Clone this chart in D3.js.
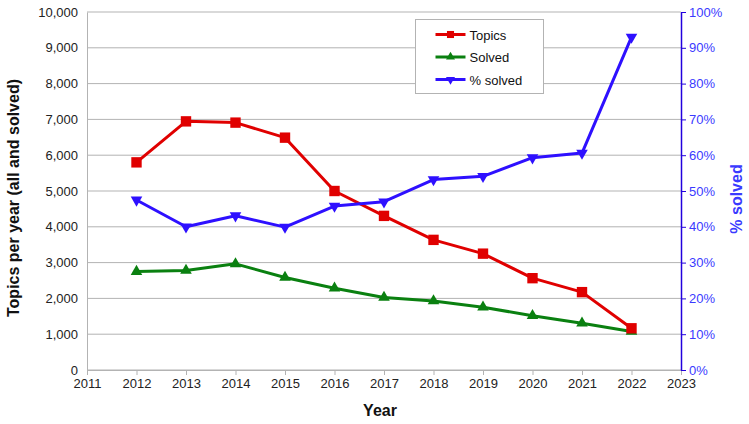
<!DOCTYPE html>
<html>
<head>
<meta charset="utf-8">
<script src="https://cdn.jsdelivr.net/npm/d3@7"></script>
<style>
  body { margin: 0; background: #fff; }
  text { font-family: "Liberation Sans", Arial, sans-serif; }
</style>
</head>
<body>
<div id="chart"></div>
<script>
// data
var years = [2012, 2013, 2014, 2015, 2016, 2017, 2018, 2019, 2020, 2021, 2022];
var topics = [5800, 6945, 6910, 6490, 5000, 4305, 3635, 3250, 2565, 2175, 1165];
var solved = [2750, 2780, 2965, 2585, 2285, 2025, 1930, 1755, 1515, 1305, 1075];
var pctSolved = [47.5, 40.0, 43.1, 39.9, 45.8, 47.0, 53.2, 54.1, 59.3, 60.6, 93.0];
var leftTicks = [0, 1000, 2000, 3000, 4000, 5000, 6000, 7000, 8000, 9000, 10000];
var rightTicks = [0, 10, 20, 30, 40, 50, 60, 70, 80, 90, 100];
var xTicks = [2011, 2012, 2013, 2014, 2015, 2016, 2017, 2018, 2019, 2020, 2021, 2022, 2023];

var W = 749, H = 424;
var margin = { top: 12, right: 68, bottom: 54, left: 87 },
    width = W - margin.left - margin.right,
    height = H - margin.top - margin.bottom;

var red = "#e00000", green = "#0a8010", blue = "#2e10ff";

var svg = d3.select("#chart").append("svg")
    .attr("width", W).attr("height", H);
var g = svg.append("g")
    .attr("transform", "translate(" + margin.left + "," + margin.top + ")");

var x = d3.scaleLinear().domain([2011, 2023]).range([0, width]);
var y = d3.scaleLinear().domain([0, 10000]).range([height, 0]);
var y2 = d3.scaleLinear().domain([0, 100]).range([height, 0]);

// gridlines
g.append("g").selectAll("line").data(leftTicks).enter().append("line")
    .attr("x1", 0).attr("x2", width)
    .attr("y1", d => y(d)).attr("y2", d => y(d))
    .attr("stroke", "#b3b3b3").attr("stroke-width", 1);

// left axis
var fmt = d3.format(",");
var yAxis = g.append("g")
    .call(d3.axisLeft(y).tickValues(leftTicks).tickFormat(fmt).tickSize(0).tickPadding(9));
yAxis.select(".domain").attr("stroke", "#b3b3b3");
yAxis.selectAll("text").attr("font-size", 13).attr("fill", "#222")
    .style("font-family", "Liberation Sans, Arial, sans-serif");

// bottom axis
var xAxis = g.append("g")
    .attr("transform", "translate(0," + height + ")")
    .call(d3.axisBottom(x).tickValues(xTicks).tickFormat(d3.format("d")).tickSize(5).tickSizeOuter(0).tickPadding(4));
xAxis.select(".domain").attr("stroke", "#b3b3b3");
xAxis.selectAll("line").attr("stroke", "#b3b3b3");
xAxis.selectAll("text").attr("font-size", 13).attr("fill", "#222")
    .style("font-family", "Liberation Sans, Arial, sans-serif");

// right axis
var rAxis = g.append("g")
    .attr("transform", "translate(" + width + ",0)")
    .call(d3.axisRight(y2).tickValues(rightTicks).tickFormat(d => d + "%").tickSize(5).tickSizeOuter(0).tickPadding(3));
rAxis.select(".domain").attr("stroke", "#2200dd").attr("stroke-width", 1.5);
rAxis.selectAll("line").attr("stroke", "#2200dd");
rAxis.selectAll("text").attr("font-size", 13).attr("fill", "#3a3aff")
    .style("font-family", "Liberation Sans, Arial, sans-serif");

// axis titles
svg.append("text")
    .attr("transform", "translate(19,198) rotate(-90)")
    .attr("text-anchor", "middle").attr("font-size", 16).attr("font-weight", "bold")
    .attr("fill", "#111").text("Topics per year (all and solved)");
svg.append("text")
    .attr("transform", "translate(742,199) rotate(-90)")
    .attr("text-anchor", "middle").attr("font-size", 16).attr("font-weight", "bold")
    .attr("fill", "#3a3aff").text("% solved");
svg.append("text")
    .attr("x", 380).attr("y", 416)
    .attr("text-anchor", "middle").attr("font-size", 16).attr("font-weight", "bold")
    .attr("fill", "#111").text("Year");

// markers
var sq = d3.symbol().type(d3.symbolSquare).size(108);
var tri = d3.symbol().type(d3.symbolTriangle).size(58);

function drawSeries(vals, scale, color, kind) {
    var line = d3.line()
        .x((d, i) => x(years[i]))
        .y(d => scale(d));
    g.append("path").datum(vals)
        .attr("fill", "none").attr("stroke", color).attr("stroke-width", 3)
        .attr("stroke-linejoin", "round")
        .attr("d", line);
    g.append("g").selectAll("path").data(vals).enter().append("path")
        .attr("d", kind == "sq" ? sq : tri)
        .attr("fill", color)
        .attr("transform", function(d, i) {
            var t = "translate(" + x(years[i]) + "," + scale(d) + ")";
            if (kind == "down") t += " rotate(180)";
            return t;
        });
}

drawSeries(solved, y, green, "up");
drawSeries(topics, y, red, "sq");
drawSeries(pctSolved, y2, blue, "down");

// legend
var leg = svg.append("g").attr("transform", "translate(415.5,19.5)");
leg.append("rect").attr("width", 128).attr("height", 74)
    .attr("fill", "#fff").attr("stroke", "#b3b3b3");
var items = [
    { name: "Topics", color: red, kind: "sq" },
    { name: "Solved", color: green, kind: "up" },
    { name: "% solved", color: blue, kind: "down" }
];
items.forEach(function(it, i) {
    var yy = 15 + i * 22.5;
    leg.append("line").attr("x1", 20).attr("x2", 50).attr("y1", yy).attr("y2", yy)
        .attr("stroke", it.color).attr("stroke-width", 3);
    leg.append("path")
        .attr("d", it.kind == "sq" ? d3.symbol().type(d3.symbolSquare).size(50) : d3.symbol().type(d3.symbolTriangle).size(35))
        .attr("fill", it.color)
        .attr("transform", "translate(35," + yy + ")" + (it.kind == "down" ? " rotate(180)" : ""));
    leg.append("text").attr("x", 54).attr("y", yy + 5)
        .attr("font-size", 13).attr("fill", "#111").text(it.name);
});
</script>
</body>
</html>
